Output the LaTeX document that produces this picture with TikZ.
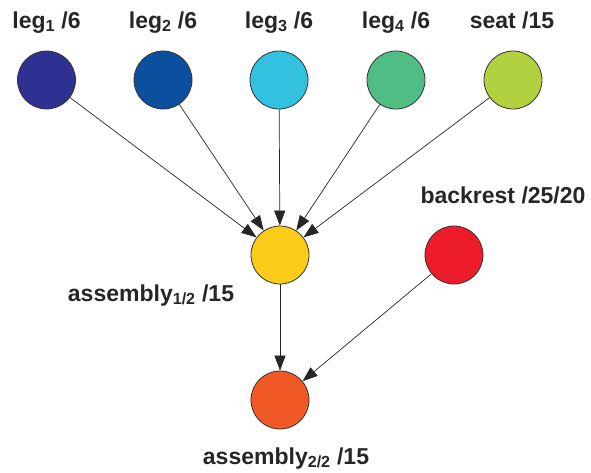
\documentclass[tikz,border=0pt]{standalone}
\usepackage{fontspec}
\setmainfont{Liberation Sans}
\usetikzlibrary{arrows.meta}
\definecolor{cLegA}{HTML}{2E3192}
\definecolor{cLegB}{HTML}{0D4F9F}
\definecolor{cLegC}{HTML}{33C1E1}
\definecolor{cLegD}{HTML}{50BD84}
\definecolor{cSeat}{HTML}{B1D13F}
\definecolor{cAsmA}{HTML}{FBCD1A}
\definecolor{cBack}{HTML}{EC1C2B}
\definecolor{cAsmB}{HTML}{F15A27}
\tikzset{
  part/.style={circle, draw=black!80, line width=0.8pt, minimum size=58pt, inner sep=0pt, fill=#1},
  lbl/.style={font=\fontsize{23}{25}\selectfont\bfseries, text=black!85, anchor=base, inner sep=0pt},
  link/.style={-{Triangle[length=15pt,width=11pt]}, line width=0.7pt, black!85},
}
\begin{document}
\begin{tikzpicture}[x=1pt,y=-1pt]
\useasboundingbox (0,0) rectangle (591,472);
% parts
\node[part=cLegA] (leg1) at (46.5,80) {};
\node[part=cLegB] (leg2) at (163,80) {};
\node[part=cLegC] (leg3) at (279,80) {};
\node[part=cLegD] (leg4) at (396,80) {};
\node[part=cSeat] (seat) at (513,80) {};
\node[part=cAsmA] (asm1) at (280,255) {};
\node[part=cBack] (back) at (454,255) {};
\node[part=cAsmB] (asm2) at (280,400) {};
% labels
\node[lbl] (tleg1) at (46.5,28) {leg\textsubscript{1} /6};
\node[lbl] (tleg2) at (163,28) {leg\textsubscript{2} /6};
\node[lbl] (tleg3) at (279,28) {leg\textsubscript{3} /6};
\node[lbl] (tleg4) at (396,28) {leg\textsubscript{4} /6};
\node[lbl] (tseat) at (512,28) {seat /15};
\node[lbl] (tasm1) at (151,301) {assembly\textsubscript{1/2} /15};
\node[lbl] (tback) at (503,203) {backrest /25/20};
\node[lbl] (tasm2) at (286,464) {assembly\textsubscript{2/2} /15};
% connectors
\draw[link] (leg1) -- (asm1);
\draw[link] (leg2) -- (asm1);
\draw[link] (leg3) -- (asm1);
\draw[link] (leg4) -- (asm1);
\draw[link] (seat) -- (asm1);
\draw[link] (asm1) -- (asm2);
\draw[link] (back) -- (asm2);
\end{tikzpicture}
\end{document}
